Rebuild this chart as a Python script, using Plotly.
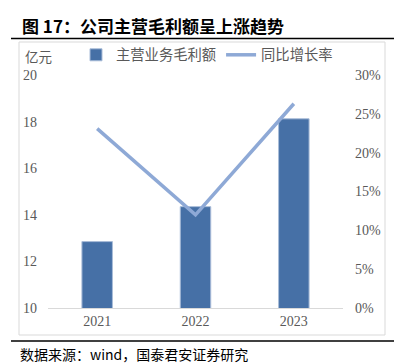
import plotly.graph_objects as go

years = ["2021", "2022", "2023"]
gross_profit = [12.85, 14.35, 18.12]   # 亿元
growth_rate = [23.1, 12.0, 26.3]       # %

left_ticks = [10, 12, 14, 16, 18, 20]
right_ticks = [0, 5, 10, 15, 20, 25, 30]
right_labels = [f"{v}%" for v in right_ticks]

W, H = 403, 364
L, R, T, B = 48, 343, 75, 308  # plot area in px


def px(x):
    return (x - L) / (R - L)


def py(y):
    return (B - y) / (B - T)


num_font = "Liberation Serif"
cjk_font = "Noto Sans CJK SC"
grey = "#595959"

fig = go.Figure()
fig.add_trace(go.Bar(
    x=years, y=gross_profit, name="主营业务毛利额",
    marker=dict(color="#4670A6", line=dict(color="#A9BCD8", width=1)),
    width=0.31, yaxis="y",
))
fig.add_trace(go.Scatter(
    x=years, y=growth_rate, name="同比增长率", mode="lines",
    line=dict(color="#8EA9D6", width=3.5), yaxis="y2",
))

fig.update_layout(
    width=W, height=H,
    margin=dict(l=L, r=W - R, t=T, b=H - B, autoexpand=False),
    paper_bgcolor="white", plot_bgcolor="white",
    showlegend=True,
    legend=dict(orientation="h", x=px(76), y=py(55), xanchor="left", yanchor="middle",
                font=dict(family=cjk_font, size=14.3, color=grey),
                bgcolor="rgba(0,0,0,0)", itemwidth=30, tracegroupgap=0),
    xaxis=dict(type="category", showline=True, linecolor="#D9D9D9", linewidth=1,
               ticks="", tickfont=dict(family=num_font, size=14, color=grey),
               showgrid=False, zeroline=False),
    yaxis=dict(range=[10, 20], tickvals=left_ticks, showgrid=False, zeroline=False,
               showline=False, ticks="", ticklabelstandoff=10,
               tickfont=dict(family=num_font, size=14, color=grey)),
    yaxis2=dict(range=[0, 30], tickvals=right_ticks, ticktext=right_labels, overlaying="y",
                side="right", showgrid=False, zeroline=False, showline=False,
                ticks="", ticklabelstandoff=11,
                tickfont=dict(family=num_font, size=14, color=grey)),
    bargap=0.69,
)

shapes = [
    dict(type="rect", xref="paper", yref="paper", x0=px(19), x1=px(385), y0=py(335), y1=py(42),
         line=dict(color="#D9D9D9", width=1), fillcolor="rgba(0,0,0,0)", layer="below"),
    dict(type="line", xref="paper", yref="paper", x0=px(11), x1=px(394), y0=py(38.5), y1=py(38.5),
         line=dict(color="black", width=1.5)),
    dict(type="line", xref="paper", yref="paper", x0=px(11), x1=px(394), y0=py(341), y1=py(341),
         line=dict(color="black", width=1.5)),
]
fig.update_layout(shapes=shapes)

annotations = [
    dict(text="<b>图 17：公司主营毛利额呈上涨趋势</b>", x=px(20), y=py(26), xref="paper", yref="paper",
         xanchor="left", yanchor="middle", showarrow=False,
         font=dict(family=cjk_font, size=17, color="black")),
    dict(text="亿元", x=px(23), y=py(56), xref="paper", yref="paper",
         xanchor="left", yanchor="middle", showarrow=False,
         font=dict(family=cjk_font, size=13.5, color=grey)),
    dict(text="数据来源：wind，国泰君安证券研究", x=px(18), y=py(354), xref="paper", yref="paper",
         xanchor="left", yanchor="middle", showarrow=False,
         font=dict(family=cjk_font, size=14, color="black")),
]
fig.update_layout(annotations=annotations)

fig.write_html("out.html", config={"displayModeBar": False},
               post_script="document.body.style.margin='0';")
